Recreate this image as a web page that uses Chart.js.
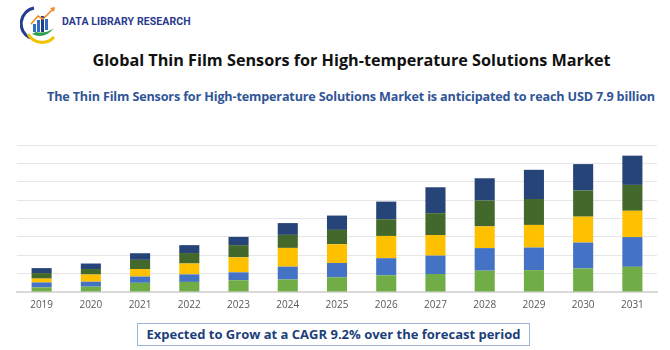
<!DOCTYPE html>
<html>
<head>
<meta charset="utf-8">
<script src="https://cdn.jsdelivr.net/npm/chart.js@4"></script>
<style>
  body { margin: 0; width: 670px; height: 350px; background: #fff; position: relative; overflow: hidden; font-family: "Open Sans", sans-serif; }
  .brand { position: absolute; left: 62px; top: 15px; font-family: "Roboto", sans-serif; font-weight: 700; font-size: 10.5px; color: #2b3a8c; letter-spacing: 0.1px; }
  .title { position: absolute; left: 0; width: 703px; top: 49px; text-align: center; font-weight: 700; font-size: 16.2px; color: #111; }
  .sub { position: absolute; left: 47px; top: 88px; font-weight: 700; font-size: 12.6px; letter-spacing: -0.15px; color: #2f5597; white-space: nowrap; }
  .chart { position: absolute; left: 0; top: 135px; width: 670px; height: 183px; }
  .cagr { position: absolute; left: 137px; top: 323px; width: 391px; height: 21px; border: 1px solid #9db3da; text-align: center; font-weight: 700; font-size: 13px; line-height: 21px; color: #203f7a; }
</style>
</head>
<body>
<svg style="position:absolute;left:20px;top:4px" width="42" height="40" viewBox="0 0 42 40">
  <path d="M14 4 A16 16 0 0 0 10 34" fill="none" stroke="#243c8f" stroke-width="3"/>
  <path d="M8 30 A16 16 0 0 0 34 33" fill="none" stroke="#f2c200" stroke-width="3"/>
  <path d="M12 30 Q24 36 34 24 Q26 30 16 28 Z" fill="#2e9e4a"/>
  <rect x="13" y="20" width="3" height="8" fill="#2f6fc2"/>
  <rect x="17" y="16" width="3" height="12" fill="#2f6fc2"/>
  <rect x="21" y="12" width="3" height="16" fill="#243c8f"/>
  <rect x="25" y="15" width="3" height="11" fill="#2f6fc2"/>
  <path d="M11 20 L18 12 L23 15 L33 5" fill="none" stroke="#f08a24" stroke-width="1.6"/>
  <path d="M30 4 L35 3 L34 8 Z" fill="#f08a24"/>
</svg>
<div class="brand">DATA LIBRARY RESEARCH</div>
<div class="title">Global Thin Film Sensors for High-temperature Solutions Market</div>
<div class="sub">The Thin Film Sensors for High-temperature Solutions Market is anticipated to reach USD 7.9 billion</div>
<div class="chart"><canvas id="c"></canvas></div>
<div class="cagr">Expected to Grow at a CAGR 9.2% over the forecast period</div>
<script>
const years = ['2019','2020','2021','2022','2023','2024','2025','2026','2027','2028','2029','2030','2031'];
const seg1 = [0.25, 0.29, 0.50, 0.55, 0.64, 0.68, 0.80, 0.91, 0.98, 1.16, 1.19, 1.28, 1.37];
const seg2 = [0.27, 0.27, 0.34, 0.41, 0.43, 0.70, 0.78, 0.93, 1.00, 1.23, 1.23, 1.41, 1.62];
const seg3 = [0.21, 0.39, 0.41, 0.59, 0.82, 1.02, 1.02, 1.21, 1.12, 1.18, 1.23, 1.41, 1.43];
const seg4 = [0.30, 0.30, 0.50, 0.57, 0.66, 0.71, 0.78, 0.91, 1.19, 1.41, 1.41, 1.43, 1.41];
const seg5 = [0.27, 0.30, 0.36, 0.43, 0.45, 0.64, 0.78, 0.96, 1.41, 1.21, 1.59, 1.43, 1.59];
const colors = ['#70ad47', '#4472c4', '#ffc000', '#43682b', '#264478'];

new Chart(document.getElementById('c'), {
  type: 'bar',
  data: {
    labels: years,
    datasets: [seg1, seg2, seg3, seg4, seg5].map((d, i) => ({
      data: d,
      backgroundColor: colors[i],
      borderWidth: 0,
      barPercentage: 0.6,
      categoryPercentage: 0.68
    }))
  },
  options: {
    responsive: true,
    maintainAspectRatio: false,
    animation: false,
    layout: { padding: { left: 17, right: 13, top: 10, bottom: 0 } },
    plugins: { legend: { display: false }, tooltip: { enabled: false } },
    scales: {
      x: {
        stacked: true,
        grid: { display: false, drawTicks: false },
        border: { color: '#d9d9d9', width: 2 },
        ticks: { color: '#595959', font: { family: 'Open Sans', size: 10 }, padding: 7 }
      },
      y: {
        stacked: true,
        min: 0, max: 8,
        ticks: { display: false, stepSize: 1 },
        grid: { color: '#e6e6e6', lineWidth: 1, drawTicks: false },
        border: { display: false }
      }
    }
  }
});
</script>
</body>
</html>
